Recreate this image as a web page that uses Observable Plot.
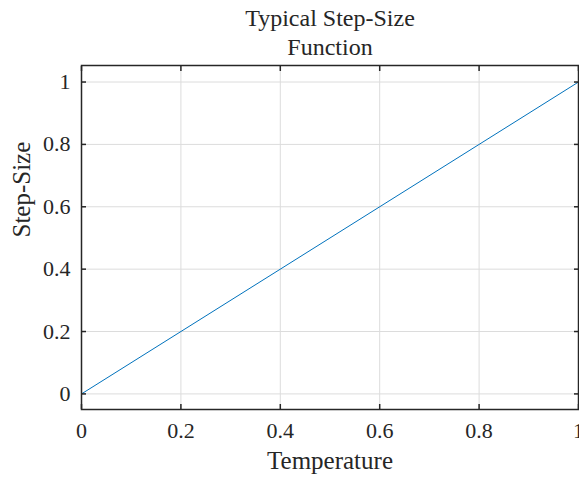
<!DOCTYPE html>
<html>
<head>
<meta charset="utf-8">
<script src="https://cdn.jsdelivr.net/npm/d3@7"></script>
<script src="https://cdn.jsdelivr.net/npm/@observablehq/plot@0.6"></script>
<style>
  html, body { margin: 0; padding: 0; background: #fff; }
  svg { display: block; }
</style>
</head>
<body>
<div id="chart"></div>
<script>
const temperature = [0, 1];
const stepSize = [0, 1];
const xTicks = [0, 0.2, 0.4, 0.6, 0.8, 1];
const yTicks = [0, 0.2, 0.4, 0.6, 0.8, 1];
const titleText = ["Typical Step-Size", "Function"];

const data = temperature.map((t, i) => ({t, s: stepSize[i]}));
const fmt = d => String(+d.toFixed(1));
const ink = "#262626";
const font = "Liberation Serif, Times New Roman, serif";

const chart = Plot.plot({
  width: 579,
  height: 479,
  marginTop: 65,
  marginBottom: 70,
  marginLeft: 81,
  marginRight: 1,
  style: {fontFamily: font, fontSize: "22px", color: ink, background: "#fff"},
  x: {domain: [0, 1]},
  y: {domain: [-0.05, 1.053]},
  marks: [
    Plot.gridX(xTicks, {stroke: "#dcdcdc", strokeOpacity: 1, strokeWidth: 1}),
    Plot.gridY(yTicks, {stroke: "#dcdcdc", strokeOpacity: 1, strokeWidth: 1}),
    Plot.line(data, {x: "t", y: "s", stroke: "#0072BD", strokeWidth: 1}),
    Plot.axisX(xTicks, {anchor: "bottom", tickSize: -5, tickPadding: 18, tickFormat: fmt, stroke: ink, strokeWidth: 1.5, fill: ink, fontSize: 22, label: null}),
    Plot.axisX(xTicks, {anchor: "top", tickSize: -5, text: null, stroke: ink, strokeWidth: 1.5, label: null}),
    Plot.axisY(yTicks, {anchor: "left", tickSize: -5, tickPadding: 16, tickFormat: fmt, stroke: ink, strokeWidth: 1.5, fill: ink, fontSize: 22, label: null}),
    Plot.axisY(yTicks, {anchor: "right", tickSize: -5, text: null, stroke: ink, strokeWidth: 1.5, label: null}),
    Plot.frame({stroke: ink, strokeWidth: 1.5}),
    Plot.text(["Temperature"], {frameAnchor: "bottom", dy: 59, text: d => d, fill: ink, fontSize: 25}),
    Plot.text(["Step-Size"], {frameAnchor: "left", dx: -60, rotate: -90, text: d => d, fill: ink, fontSize: 25}),
    Plot.text([titleText.join("\n")], {frameAnchor: "top", dy: -59, text: d => d, fill: ink, fontSize: 24, lineHeight: 1.17})
  ]
});
document.getElementById("chart").appendChild(chart);
</script>
</body>
</html>
